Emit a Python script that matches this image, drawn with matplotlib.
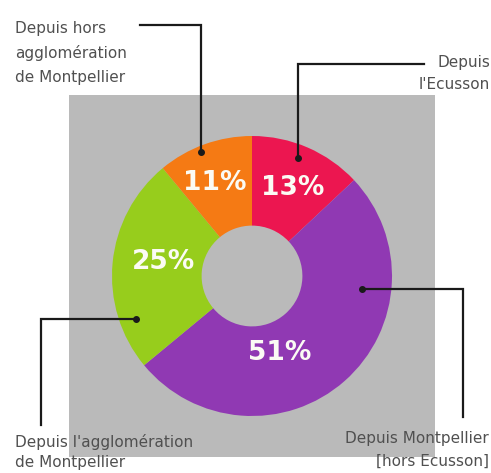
import numpy as np
import matplotlib
matplotlib.use('Agg')
import matplotlib.pyplot as plt
from matplotlib.patches import Rectangle

# data, clockwise from 12 o'clock
labels = ["Depuis\nl'Ecusson", "Depuis Montpellier\n[hors Ecusson]",
          "Depuis l'agglomération\nde Montpellier", "Depuis hors\nagglomération\nde Montpellier"]
values = [13, 51, 25, 11]
colors = ['#ec1650', '#9039b3', '#97cd1c', '#f57a14']

plt.rcParams['font.family'] = ['DejaVu Sans']

W, H = 491, 473
fig = plt.figure(figsize=(W / 100, H / 100), dpi=100)
ax = fig.add_axes([0, 0, 1, 1])

def py(y):
    # pixel row from top -> axis y
    return H - y

# grey panel
ax.add_patch(Rectangle((69, py(457)), 366, 362, facecolor='#bababa', edgecolor='none', zorder=0))

cx, cy, R = 252, py(276), 140
wedges, _ = ax.pie(values, colors=colors, startangle=90, counterclock=False,
                   center=(cx, cy), radius=R, frame=True,
                   wedgeprops=dict(width=R * 0.64, edgecolor='none'))
ax.set_xlim(0, W)
ax.set_ylim(0, H)
ax.set_aspect('equal')
ax.axis('off')

# percentage labels (angle in degrees, distance from centre)
lab_pos = [(65, 97), (-70, 82), (171, 90), (112, 100)]
for v, (a, r) in zip(values, lab_pos):
    t = np.deg2rad(a)
    ax.text(cx + r * np.cos(t), cy + r * np.sin(t), f'{v}%', color='#fbfbf4',
            fontsize=19, fontweight='bold', ha='center', va='center', zorder=5)

# leader lines: list of pixel points, dot at the first
leaders = [
    [(298, 158), (298, 64), (424, 64)],
    [(362, 289), (463, 289), (463, 417)],
    [(136, 319), (41, 319), (41, 425)],
    [(201, 152), (201, 25), (140, 25)],
]
for pts in leaders:
    xs = [p[0] for p in pts]
    ys = [py(p[1]) for p in pts]
    ax.plot(xs, ys, color='#1a1a1a', lw=1.6, zorder=6, solid_joinstyle='miter')
    ax.plot(xs[0], ys[0], 'o', color='#1a1a1a', ms=4, zorder=7)

# category texts: x, first line centre y, line pitch, alignment
text_pos = [(490, 63, 22, 'right'), (489, 438, 23, 'right'),
            (15, 442, 21, 'left'), (15, 29, 24.5, 'left')]
for lab, (x, y0, pitch, ha) in zip(labels, text_pos):
    for i, line in enumerate(lab.split('\n')):
        ax.text(x, py(y0 + i * pitch), line, ha=ha, va='center',
                fontsize=11, color='#505050', zorder=8)

fig.savefig('out.png', dpi=100, facecolor='white')
